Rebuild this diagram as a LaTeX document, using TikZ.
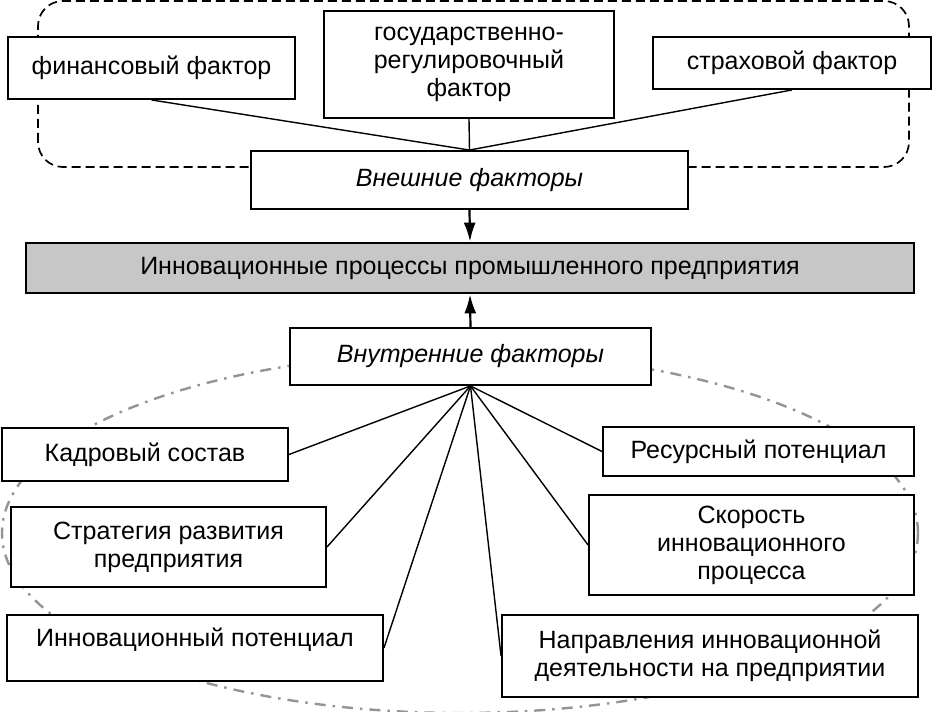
\documentclass[tikz,border=0pt]{standalone}
\usepackage{fontspec}
\setmainfont{Liberation Sans}
\usepackage{tikz}
\usetikzlibrary{arrows.meta}
\pgfdeclarelayer{background}
\pgfsetlayers{background,main}
\tikzstyle{factor}=[draw, fill=white, line width=1.9pt, text centered,
  align=center, inner sep=0pt]
\tikzstyle{process}=[factor, fill=black!22, line width=2.8pt]
\tikzstyle{line}=[draw, line width=1.4pt]
\tikzstyle{arrowline}=[draw, line width=2.2pt, -{Latex[length=19pt,width=12pt]}]
\tikzstyle{outerframe}=[draw, line width=1.7pt, dash pattern=on 9pt off 5pt,
  rounded corners=25pt]
\tikzstyle{innerframe}=[draw=black!42, line width=2.4pt,
  dash pattern=on 11pt off 7pt on 2.5pt off 7pt]
\newcommand{\factor}[4]{node (p#1) [factor, minimum width=#2,
  minimum height=#3] {#4}}

\begin{document}
\begin{tikzpicture}[x=1pt, y=1pt, font=\fontsize{25pt}{28pt}\selectfont]
  \useasboundingbox (-470,-444) rectangle (462,268);

  % Main box
  \path (0,0) node (p1) [process, minimum width=888pt, minimum height=50pt]
    {Инновационные процессы промышленного предприятия};

  % External factors
  \path (p1.center)+(-0.5,88) \factor{2}{437pt}{58pt}{\itshape Внешние факторы};
  \path (p1.center)+(-318.5,200) \factor{3}{287pt}{62pt}{финансовый фактор};
  \path (p1.center)+(-1,203.5) \factor{4}{290pt}{107pt}
    {государственно-\\регулировочный\\фактор};
  \path (p1.center)+(322,205) \factor{5}{278pt}{52pt}{страховой фактор};

  % Internal factors
  \path (p1.center)+(0.5,-88.5) \factor{6}{361pt}{57pt}{\itshape Внутренние факторы};
  \path (p1.center)+(-325,-186.5) \factor{7}{286pt}{53pt}{Кадровый состав};
  \path (p1.center)+(288.5,-183.5) \factor{8}{311pt}{49pt}{Ресурсный потенциал};
  \path (p1.center)+(-301.5,-279) \factor{9}{315pt}{80pt}
    {Стратегия развития\\предприятия};
  \path (p1.center)+(281.5,-277) \factor{10}{325pt}{100pt}
    {Скорость\\инновационного\\процесса};
  \path (p1.center)+(-275,-380) node (p11) [factor, minimum width=376pt,
    minimum height=66pt, text height=18pt, text depth=22pt]
    {Инновационный потенциал};
  \path (p1.center)+(240,-388) \factor{12}{416pt}{82pt}
    {Направления инновационной\\деятельности на предприятии};

  % Connectors
  \path [line] (p3.south) -- (p2.north);
  \path [line] (p4.south) -- (p2.north);
  \path [line] (p5.south) -- (p2.north);
  \path [arrowline] (p2.south) -- (p1.north);
  \path [arrowline] (p6.north) -- (p1.south);

  \path [line] (p6.south) -- (p7.east);
  \path [line] (p6.south) -- (p8.west);
  \path [line] (p6.south) -- (p9.east);
  \path [line] (p6.south) -- (p10.west);
  \path [line] (p6.south) -- (p11.east);
  \path [line] (p6.south) -- (p12.west);

  % Frames
  \begin{pgfonlayer}{background}
    \path [outerframe] (-432,101) rectangle (439,267);
    \path [innerframe] (-10,-265) ellipse [x radius=458pt, y radius=180pt];
  \end{pgfonlayer}
\end{tikzpicture}
\end{document}
